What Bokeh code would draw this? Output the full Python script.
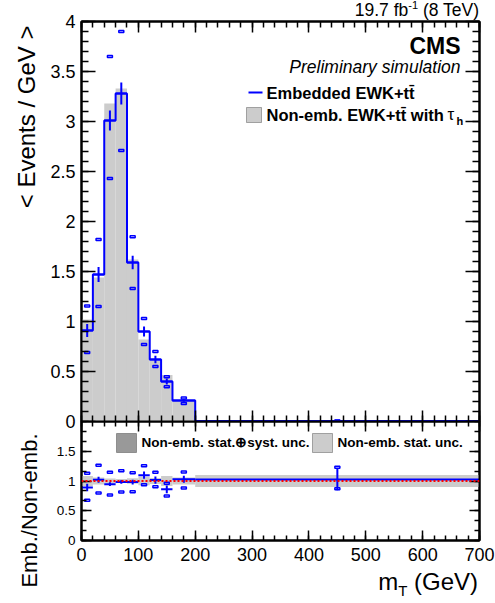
import numpy as np
from bokeh.plotting import figure
from bokeh.layouts import column
from bokeh.models import (Range1d, LinearAxis, FixedTicker, CustomJSTickFormatter,
                          Label, BoxAnnotation, Span, Title, Div)
from bokeh.embed import file_html
from bokeh.resources import INLINE

# ---------------- data ----------------
bin_edges = [0, 20, 40, 60, 80, 100, 120, 140, 160, 200, 700]
emb = [0.91, 1.47, 3.01, 3.28, 1.59, 0.90, 0.62, 0.40, 0.21, 0.004]
emb_stat = [0.065, 0.075, 0.10, 0.11, 0.067, 0.05, 0.037, 0.03, 0.012, 0.0007]
emb_syst_up = [1.154, 1.82, 3.65, 3.90, 1.847, 1.03, 0.70, 0.447, 0.235, 0.0048]
emb_syst_down = [0.69, 1.15, 2.43, 2.71, 1.33, 0.77, 0.55, 0.347, 0.18, 0.0034]
nonemb = [1.02, 1.44, 3.18, 3.33, 1.62, 0.82, 0.61, 0.465, 0.204, 0.0039]
nonemb_stat_rel = [0.085, 0.06, 0.04, 0.035, 0.045, 0.07, 0.05, 0.085, 0.06, 0.10]

x_ticks = [0, 100, 200, 300, 400, 500, 600, 700]
y_ticks = [0, 0.5, 1, 1.5, 2, 2.5, 3, 3.5, 4]
ratio_ticks = [0, 0.5, 1, 1.5]

FONT = "Liberation Sans"
BLUE = "#0000ff"
OVERLAP = 12
TOP_OVERLAP = 10

lefts = np.array(bin_edges[:-1], dtype=float)
rights = np.array(bin_edges[1:], dtype=float)
centers = (lefts + rights) / 2
emb_a = np.array(emb)
stat_a = np.array(emb_stat)
non_a = np.array(nonemb)
ratio = emb_a / non_a
ratio_stat = stat_a / non_a
ratio_up = np.array(emb_syst_up) / non_a
ratio_down = np.array(emb_syst_down) / non_a
band_rel = np.array(nonemb_stat_rel)


def add_axis(fig, side, ticker, labels, size, major_len, minor_len, standoff=6):
    ax = LinearAxis(ticker=ticker)
    ax.major_tick_in = major_len
    ax.major_tick_out = 0
    ax.minor_tick_in = minor_len
    ax.minor_tick_out = 0
    ax.axis_line_color = "black"
    ax.axis_line_width = 2
    ax.major_tick_line_width = 1.5
    ax.minor_tick_line_width = 1.5
    if labels:
        ax.formatter = CustomJSTickFormatter(code="return tick.toString();")
        ax.major_label_text_font = FONT
        ax.major_label_text_font_size = size
        ax.major_label_text_color = "black"
        ax.major_label_standoff = standoff
    else:
        ax.formatter = CustomJSTickFormatter(code="return '';")
        ax.major_label_text_font_size = "0px"
        ax.major_label_standoff = 0
    fig.add_layout(ax, side)
    return ax


def lab(fig, x, y, text, size, style="normal", align="left"):
    fig.add_layout(Label(x=x, y=y, x_units="screen", y_units="screen", text=text,
                         text_align=align, text_baseline="middle", text_font=FONT,
                         text_font_size=size, text_font_style=style,
                         text_color="black"))


def box(fig, l, rr, b, t, color, outline):
    fig.add_layout(BoxAnnotation(left=l, right=rr, bottom=b, top=t,
                                 left_units="screen", right_units="screen",
                                 bottom_units="screen", top_units="screen",
                                 fill_color=color, fill_alpha=1,
                                 line_color=outline, line_width=1))


# ---------------- top text ----------------
top_div = Div(text='<div style="width:495px;box-sizing:border-box;'
                   'font-family:\'Liberation Sans\';font-size:17.5px;'
                   'line-height:21px;height:21px;text-align:right;color:black;'
                   'padding-right:16px;white-space:nowrap;">'
                   '19.7 fb<sup style="font-size:11px;line-height:0;">-1</sup> (8 TeV)</div>',
              width=495, height=21, margin=0)

# ---------------- main panel ----------------
p = figure(frame_width=398, frame_height=400,
           x_range=Range1d(0, 700), y_range=Range1d(0, 4),
           output_backend="svg", toolbar_location=None,
           x_axis_location=None, y_axis_location=None,
           min_border_left=81, min_border_right=16,
           min_border_top=TOP_OVERLAP, min_border_bottom=OVERLAP,
           margin=(-TOP_OVERLAP, 0, 0, 0))
p.grid.visible = False
p.outline_line_color = "black"
p.outline_line_width = 2
p.background_fill_color = "white"
p.border_fill_alpha = 0

xt_main = FixedTicker(ticks=x_ticks, minor_ticks=list(range(0, 701, 20)))
yt_main = FixedTicker(ticks=y_ticks, minor_ticks=[i / 10 for i in range(41)])
add_axis(p, "left", yt_main, True, "18px", 14, 7)
add_axis(p, "right", yt_main, False, "0px", 14, 7)
add_axis(p, "below", xt_main, False, "0px", 11, 6)
add_axis(p, "above", xt_main, False, "0px", 11, 6)

p.add_layout(Title(text="< Events / GeV >", align="right", text_font=FONT,
                   text_font_size="24px", text_font_style="normal",
                   text_color="black", offset=4, standoff=16), "left")

p.quad(left=lefts, right=rights, bottom=0, top=non_a,
       fill_color="#cccccc", line_color=None)
p.step(x=bin_edges, y=list(emb) + [emb[-1]], mode="after",
       line_color=BLUE, line_width=2)
p.segment(x0=centers, y0=emb_a - stat_a, x1=centers, y1=emb_a + stat_a,
          line_color=BLUE, line_width=2)
p.segment(x0=lefts, y0=emb_a, x1=rights, y1=emb_a, line_color=BLUE, line_width=2)
for yy in (emb_syst_up, emb_syst_down):
    p.rect(x=centers, y=yy, width=5, height=2, width_units="screen",
           height_units="screen", fill_alpha=0, line_color=BLUE, line_width=1.5)

lab(p, 379, 376, "CMS", "23px", "bold", "right")
lab(p, 379, 355, "Preliminary simulation", "17.5px", "italic", "right")
# legend
box(p, 167, 181, 328, 330, BLUE, None)
lab(p, 185, 329, "Embedded EWK+tt\u0304", "16.5px", "bold")
box(p, 165, 180, 299, 314, "#cccccc", "black")
lab(p, 185, 307, "Non-emb. EWK+tt\u0304 with", "16.5px", "bold")
lab(p, 366, 307, "\u03c4", "17px")
lab(p, 375, 301, "h", "11px", "bold")

# ---------------- ratio panel ----------------
r = figure(frame_width=398, frame_height=119,
           x_range=p.x_range, y_range=Range1d(0, 2),
           output_backend="svg", toolbar_location=None,
           x_axis_location=None, y_axis_location=None,
           min_border_left=81, min_border_right=16,
           min_border_top=0, min_border_bottom=63,
           margin=(-OVERLAP, 0, 0, 0))
r.grid.visible = False
r.outline_line_color = "black"
r.outline_line_width = 2
r.background_fill_color = "white"
r.border_fill_alpha = 0

yt_ratio = FixedTicker(ticks=ratio_ticks, minor_ticks=[i / 6 for i in range(13)])
add_axis(r, "left", yt_ratio, True, "13.5px", 10, 5)
add_axis(r, "right", yt_ratio, False, "0px", 10, 5)
add_axis(r, "below", xt_main, True, "18px", 10, 5, standoff=7)
add_axis(r, "above", xt_main, False, "0px", 10, 5)

r.add_layout(Title(text="Emb./Non-emb.", align="right", text_font=FONT,
                   text_font_size="22px", text_font_style="normal",
                   text_color="black", offset=12, standoff=23), "left")

r.quad(left=lefts, right=rights, bottom=1 - band_rel, top=1 + band_rel,
       fill_color="#cccccc", line_color=None)
r.add_layout(Span(location=1, dimension="width", line_color="red",
                  line_dash="2 2", line_width=2))
r.segment(x0=centers, y0=ratio - ratio_stat, x1=centers, y1=ratio + ratio_stat,
          line_color=BLUE, line_width=2)
r.segment(x0=lefts, y0=ratio, x1=rights, y1=ratio, line_color=BLUE, line_width=2)
for yy in (ratio_up, ratio_down):
    r.rect(x=centers, y=yy, width=5, height=2, width_units="screen",
           height_units="screen", fill_alpha=0, line_color=BLUE, line_width=1.5)

# ratio legend
box(r, 35, 55, 88, 107, "#999999", "black")
lab(r, 60, 98, "Non-emb. stat.\u2295syst. unc.", "13.5px", "bold")
box(r, 231, 251, 88, 107, "#cccccc", "black")
lab(r, 256, 98, "Non-emb. stat. unc.", "13.5px", "bold")

# ---------------- x title ----------------
bottom_div = Div(text='<div style="width:495px;box-sizing:border-box;'
                      'font-family:\'Liberation Sans\';font-size:24px;'
                      'line-height:24px;text-align:right;color:black;'
                      'padding-right:17px;white-space:nowrap;">'
                      'm<sub style="font-size:15px;line-height:0;">T</sub> (GeV)</div>',
                 width=495, height=33, margin=(-33, 0, 0, 0))

layout = column(top_div, p, r, bottom_div, spacing=0)
open("out.html", "w").write(file_html(layout, INLINE))
